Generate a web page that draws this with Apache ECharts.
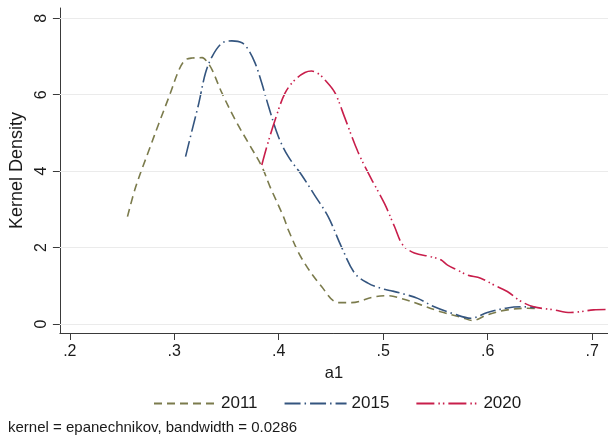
<!DOCTYPE html>
<html>
<head>
<meta charset="utf-8">
<script src="https://cdn.jsdelivr.net/npm/echarts@6/dist/echarts.min.js"></script>
<style>
  html, body { margin: 0; padding: 0; background: #fff; }
  #chart { width: 608px; height: 439px; }
</style>
</head>
<body>
<div id="chart"></div>
<script>
// Kernel density estimates of a1, by year
const a1_2011 = [0.2552, 0.2631, 0.2759, 0.2854, 0.2950, 0.3045, 0.3105, 0.3171, 0.3267, 0.3314,
  0.3362, 0.3457, 0.3584, 0.3711, 0.3838, 0.3917, 0.4045, 0.4092, 0.4219, 0.4410, 0.4569, 0.4695,
  0.4914, 0.5045, 0.5171, 0.5362, 0.5550, 0.5743, 0.5854, 0.5997, 0.6188, 0.6378, 0.6500];
const dens_2011 = [2.81, 3.59, 4.56, 5.26, 5.95, 6.65, 6.91, 6.96, 6.97, 6.86,
  6.65, 6.04, 5.34, 4.73, 4.12, 3.59, 2.81, 2.46, 1.72, 0.98, 0.56, 0.56,
  0.71, 0.74, 0.67, 0.50, 0.32, 0.18, 0.09, 0.24, 0.37, 0.41, 0.40];

const a1_2015 = [0.3108, 0.3171, 0.3235, 0.3298, 0.3362, 0.3457, 0.3552, 0.3648, 0.3711, 0.3775,
  0.3838, 0.3902, 0.3997, 0.4092, 0.4219, 0.4346, 0.4473, 0.4600, 0.4727, 0.4854, 0.4981, 0.5076,
  0.5203, 0.5330, 0.5489, 0.5679, 0.5838, 0.5997, 0.6188, 0.6346, 0.6460];
const dens_2015 = [4.38, 5.08, 5.78, 6.56, 7.00, 7.35, 7.41, 7.36, 7.17, 6.82,
  6.30, 5.70, 4.90, 4.38, 3.90, 3.36, 2.81, 2.02, 1.33, 1.07, 0.93, 0.87,
  0.78, 0.67, 0.45, 0.26, 0.15, 0.30, 0.42, 0.45, 0.43];

const a1_2020 = [0.3838, 0.3886, 0.3965, 0.4060, 0.4155, 0.4251, 0.4314, 0.4380, 0.4441, 0.4536,
  0.4632, 0.4759, 0.4886, 0.5013, 0.5108, 0.5187, 0.5298, 0.5457, 0.5552, 0.5616, 0.5711, 0.5806,
  0.5933, 0.6060, 0.6188, 0.6314, 0.6441, 0.6632, 0.6790, 0.6886, 0.7013, 0.7140];
const dens_2020 = [4.16, 4.64, 5.34, 6.04, 6.39, 6.58, 6.62, 6.55, 6.39, 6.06,
  5.40, 4.50, 3.80, 3.15, 2.55, 2.07, 1.86, 1.76, 1.68, 1.54, 1.41, 1.28,
  1.20, 1.02, 0.85, 0.60, 0.45, 0.37, 0.30, 0.32, 0.37, 0.38];

const years = ['2011', '2015', '2020'];
const xTicks = [0.2, 0.3, 0.4, 0.5, 0.6, 0.7];
const yTicks = [0, 2, 4, 6, 8];
const noteText = 'kernel = epanechnikov, bandwidth = 0.0286';

const FONT = '"Liberation Sans", Arial, Helvetica, sans-serif';
const TEXT = '#1a1a1a';
const AXIS = '#3a3a3a';

function pairs(xs, ys) {
  return xs.map((x, i) => [x, ys[i]]);
}

const curveStyles = [
  { color: '#7b7b4c', type: [8, 5] },
  { color: '#34557f', type: [16, 4, 1.5, 4] },
  { color: '#c81e4b', type: [18, 4, 1.5, 3, 1.5, 4] }
];
const curveData = [pairs(a1_2011, dens_2011), pairs(a1_2015, dens_2015), pairs(a1_2020, dens_2020)];

const chart = echarts.init(document.getElementById('chart'), null, { renderer: 'canvas' });

// light horizontal rules at each y tick, drawn beneath the curves
const series = [
  {
    name: 'rules',
    type: 'line',
    data: [],
    silent: true,
    markLine: {
      silent: true,
      symbol: 'none',
      label: { show: false },
      lineStyle: { color: '#ebebeb', type: 'solid', width: 1 },
      data: yTicks.map(v => ({ yAxis: v }))
    }
  }
].concat(years.map((y, i) => ({
  name: y,
  type: 'line',
  data: curveData[i],
  symbol: 'none',
  smooth: 0.35,
  color: curveStyles[i].color,
  lineStyle: { color: curveStyles[i].color, width: 1.6, type: curveStyles[i].type, cap: 'butt' }
})));

chart.setOption({
  animation: false,
  backgroundColor: '#ffffff',
  textStyle: { fontFamily: FONT, color: TEXT },
  title: {
    text: noteText,
    left: 8,
    top: 420,
    padding: 0,
    textStyle: { fontSize: 15, fontWeight: 'normal', color: TEXT, fontFamily: FONT }
  },
  grid: { left: 57, right: 0, top: 8, bottom: 106, containLabel: false },
  legend: {
    data: years,
    top: 395,
    left: 153,
    padding: 0,
    itemWidth: 62,
    itemHeight: 14,
    itemGap: 26,
    textStyle: { fontSize: 17, color: TEXT, fontFamily: FONT },
    itemStyle: { color: 'rgba(0,0,0,0)', borderWidth: 0, opacity: 0 }
  },
  xAxis: {
    type: 'value',
    min: 0.1905,
    max: 0.7152,
    name: 'a1',
    nameLocation: 'middle',
    nameGap: 28,
    nameTextStyle: { fontSize: 16.5, color: TEXT, fontFamily: FONT },
    axisLine: { show: true, onZero: false, lineStyle: { color: AXIS, width: 1 } },
    axisTick: { show: true, length: 7, customValues: xTicks, lineStyle: { color: AXIS } },
    axisLabel: {
      customValues: xTicks,
      margin: 11,
      fontSize: 16,
      color: TEXT,
      fontFamily: FONT,
      formatter: v => String(Number(v.toFixed(2))).replace(/^0\./, '.')
    },
    splitLine: { show: false }
  },
  yAxis: {
    type: 'value',
    min: -0.236,
    max: 8.27,
    name: 'Kernel Density',
    nameLocation: 'middle',
    nameGap: 27,
    nameTextStyle: { fontSize: 18, color: TEXT, fontFamily: FONT },
    axisLine: { show: true, onZero: false, lineStyle: { color: AXIS, width: 1 } },
    axisTick: { show: true, length: 7, customValues: yTicks, lineStyle: { color: AXIS } },
    axisLabel: {
      customValues: yTicks,
      rotate: 90,
      margin: 10,
      fontSize: 16,
      color: TEXT,
      fontFamily: FONT
    },
    splitLine: { show: false }
  },
  series: series
});
</script>
</body>
</html>
